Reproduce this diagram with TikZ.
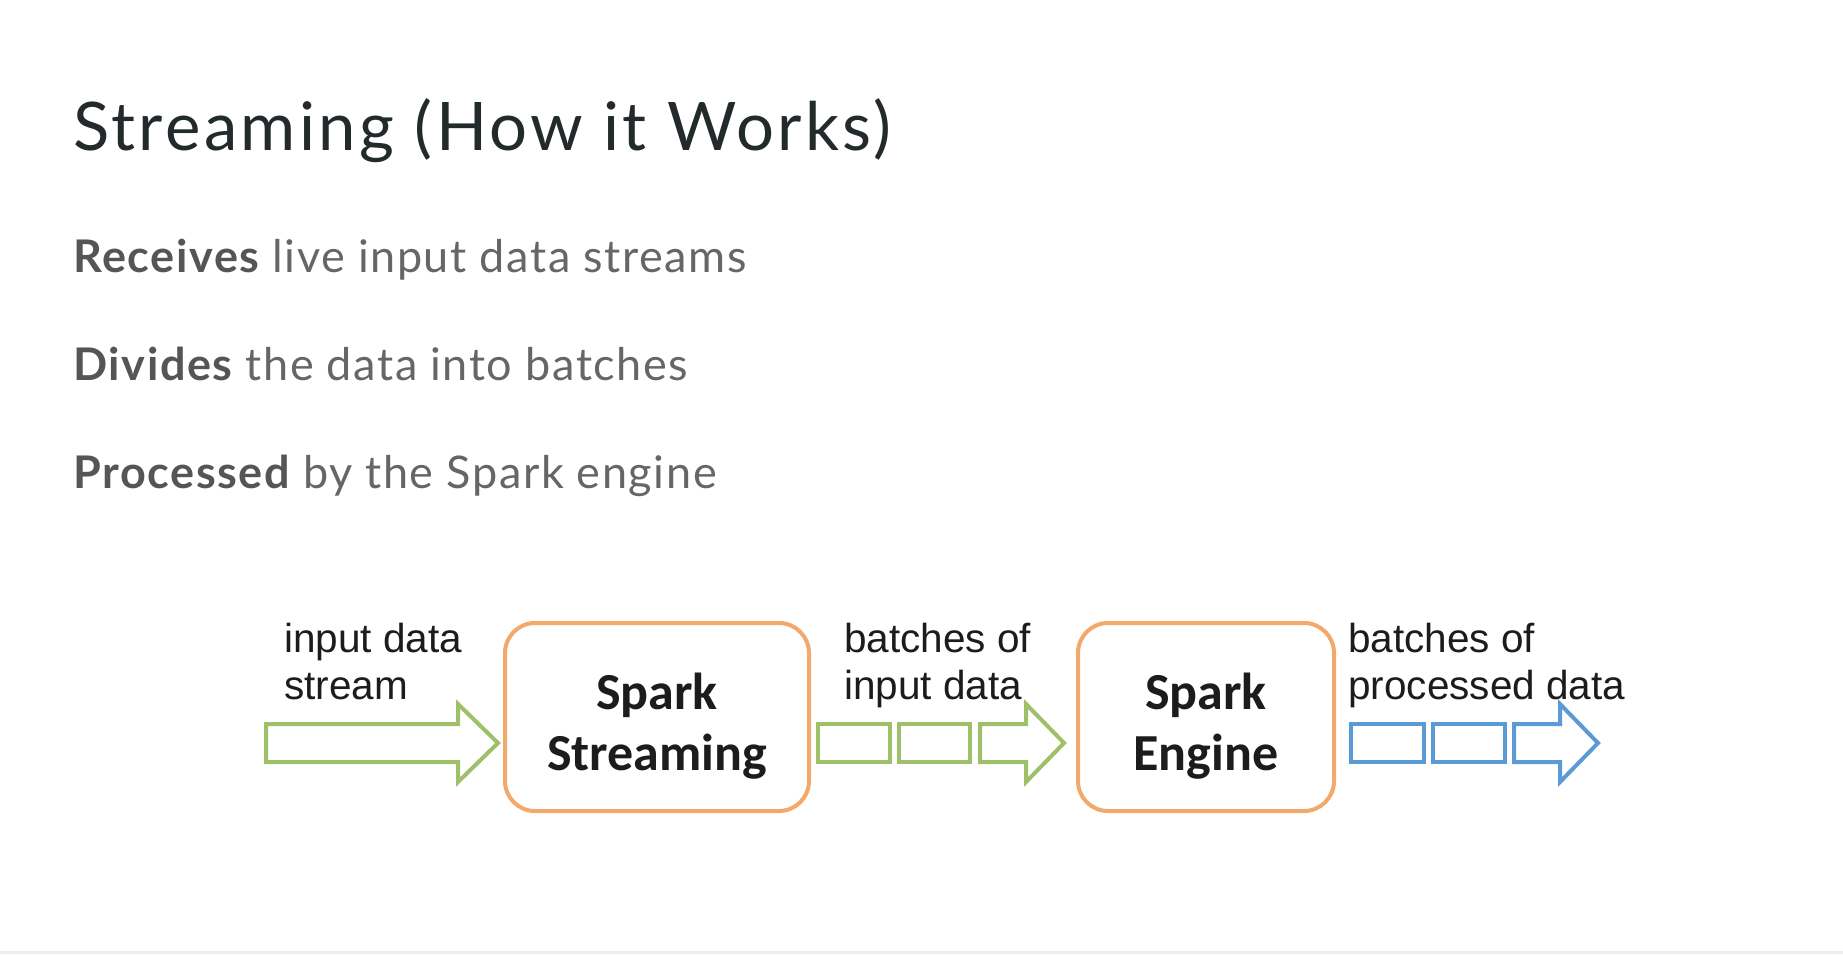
\documentclass[tikz,border=0pt]{standalone}
\usepackage{fontspec}
\setmainfont{Lato}
\newfontfamily\headfont[LetterSpace=5]{Lato}
\newfontfamily\slidefont[LetterSpace=3.5]{Lato}
\newfontfamily\diagfont{Liberation Sans}
\newfontfamily\boxfont{Carlito}

\definecolor{titlecol}{HTML}{232A2C}
\definecolor{bodycol}{HTML}{666666}
\definecolor{boldcol}{HTML}{555555}
\definecolor{textdark}{HTML}{1C1C1C}
\definecolor{flowgreen}{HTML}{9DC069}
\definecolor{flowblue}{HTML}{5B9BD5}
\definecolor{boxorange}{HTML}{F2A96B}
\definecolor{rulegrey}{HTML}{EEEEEE}

\tikzset{
  headline/.style={anchor=base west, inner sep=0pt, text=titlecol,
    font=\headfont\fontsize{33.5}{40}\selectfont},
  bulletline/.style={anchor=base west, inner sep=0pt, text=bodycol,
    font=\slidefont\fontsize{22.5}{27}\selectfont},
  caption/.style={anchor=base west, inner sep=0pt, text=textdark, align=left,
    font=\diagfont\fontsize{20.25}{23.5}\selectfont},
  procbox/.style={draw=boxorange, line width=2pt, rounded corners=15pt,
    minimum width=152pt, minimum height=94pt, inner sep=0pt},
  boxtext/.style={inner sep=0pt, align=center, text=textdark,
    font=\boxfont\bfseries\fontsize{26}{30.5}\selectfont},
  batchbox/.style={line width=2pt},
  blockarrow/.style={line width=2pt, line join=miter},
}

\begin{document}
\begin{tikzpicture}[x=0.5pt, y=-0.5pt]
  \useasboundingbox (0,0) rectangle (1843,954);
  \fill[white] (0,0) rectangle (1843,954);
  \fill[rulegrey] (0,951) rectangle (1843,954);

  % heading and the three points
  \node[headline] (title) at (73,150) {Streaming (How it Works)};
  \node[bulletline] (p1) at (73,272) {{\color{boldcol}\bfseries Receives} live input data streams};
  \node[bulletline] (p2) at (73,380) {{\color{boldcol}\bfseries Divides} the data into batches};
  \node[bulletline] (p3) at (73,488) {{\color{boldcol}\bfseries Processed} by the Spark engine};

  % processing stages
  \node[procbox] (streaming) at (657,717) {};
  \node[procbox, minimum width=128pt] (engine) at (1206,717) {};
  \node[boxtext] (streamingtext) at ([yshift=-4.5pt]streaming.center) {Spark\\Streaming};
  \node[boxtext] (enginetext) at ([yshift=-4.5pt]engine.center) {Spark\\Engine};

  % captions (anchored on the baseline of their second line)
  \node[caption] (incap) at (284,699) {input data\\stream};
  \node[caption] (midcap) at (844,699) {batches of\\input data};
  \node[caption] (outcap) at (1348,699) {batches of\\processed data};

  % live input stream
  \draw[blockarrow, draw=flowgreen]
    (266,724) -- (458,724) -- (458,704) -- (498,743) -- (458,782)
    -- (458,762) -- (266,762) -- cycle;

  % batches of input data
  \draw[batchbox, draw=flowgreen] (818,724) rectangle (890,762);
  \draw[batchbox, draw=flowgreen] (899,724) rectangle (970,762);
  \draw[blockarrow, draw=flowgreen]
    (980,724) -- (1026,724) -- (1026,704) -- (1064,743) -- (1026,782)
    -- (1026,762) -- (980,762) -- cycle;

  % batches of processed data
  \draw[batchbox, draw=flowblue] (1351,724) rectangle (1424,762);
  \draw[batchbox, draw=flowblue] (1433,724) rectangle (1505,762);
  \draw[blockarrow, draw=flowblue]
    (1514,724) -- (1560,724) -- (1560,704) -- (1598,743) -- (1560,782)
    -- (1560,762) -- (1514,762) -- cycle;
\end{tikzpicture}
\end{document}
